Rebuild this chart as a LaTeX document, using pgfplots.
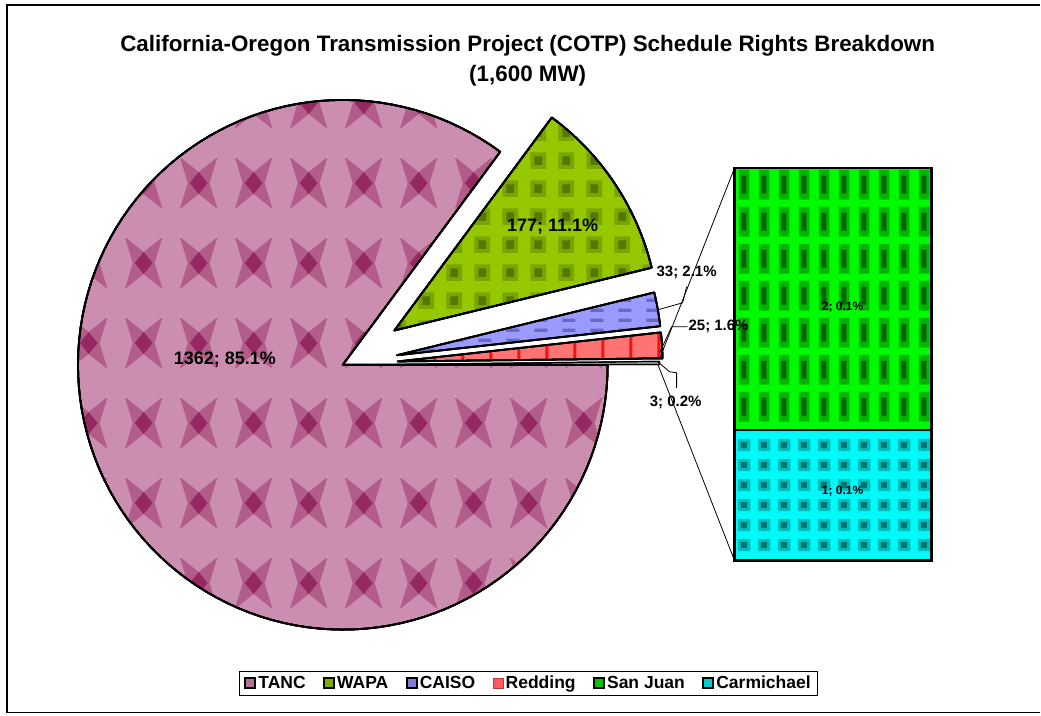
\documentclass[border=0pt]{standalone}
\usepackage{pgfplots}
\pgfplotsset{compat=1.18}
\usetikzlibrary{patterns}
\usepackage{fontspec}
\setmainfont{Liberation Sans}

% fills and pattern colours
\definecolor{tancL}{RGB}{204,142,176}
\definecolor{tancM}{RGB}{178,92,138}
\definecolor{tancD}{RGB}{148,40,96}
\definecolor{wapaL}{RGB}{150,200,0}
\definecolor{wapaM}{RGB}{120,165,0}
\definecolor{wapaD}{RGB}{85,120,0}
\definecolor{caisoL}{RGB}{155,155,255}
\definecolor{caisoD}{RGB}{105,105,195}
\definecolor{reddL}{RGB}{255,115,115}
\definecolor{reddD}{RGB}{240,20,20}
\definecolor{sjL}{RGB}{0,250,0}
\definecolor{sjM}{RGB}{0,180,0}
\definecolor{sjD}{RGB}{0,100,0}
\definecolor{cmL}{RGB}{0,250,250}
\definecolor{cmM}{RGB}{0,190,190}
\definecolor{cmD}{RGB}{0,115,115}
% legend swatches
\definecolor{tanc}{RGB}{180,112,150}
\definecolor{wapa}{RGB}{130,172,0}
\definecolor{caiso}{RGB}{125,125,215}
\definecolor{redding}{RGB}{255,90,90}
\definecolor{sanjuan}{RGB}{0,200,0}
\definecolor{carm}{RGB}{0,205,205}

% tile shapes, repeated round the tile so they wrap
\newcommand\wraprect[6]{%
  \foreach \i in {-1,0,1}{\foreach \j in {-1,0,1}{%
    \pgfpathrectangle{\pgfpoint{#3+(\i)*#1-0.5*#5}{#4+(\j)*#2-0.5*#6}}{\pgfpoint{#5}{#6}}%
    \pgfusepath{fill}}}}
\newcommand\wrapdiamond[6]{%
  \foreach \i in {-1,0,1}{\foreach \j in {-1,0,1}{%
    \pgfpathmoveto{\pgfpoint{#3+(\i)*#1}{#4+(\j)*#2-#6}}%
    \pgfpathlineto{\pgfpoint{#3+(\i)*#1+#5}{#4+(\j)*#2}}%
    \pgfpathlineto{\pgfpoint{#3+(\i)*#1}{#4+(\j)*#2+#6}}%
    \pgfpathlineto{\pgfpoint{#3+(\i)*#1-#5}{#4+(\j)*#2}}%
    \pgfpathclose\pgfusepath{fill}}}}
% four-armed star, arms towards the corners: tileW tileH cx cy w h a
\newcommand\wrapstar[7]{%
  \foreach \i in {-1,0,1}{\foreach \j in {-1,0,1}{%
    \pgfmathsetmacro\X{#3+(\i)*#1}\pgfmathsetmacro\Y{#4+(\j)*#2}%
    \pgfpathmoveto{\pgfpoint{\X+#5}{\Y+#6}}%
    \pgfpathlineto{\pgfpoint{\X}{\Y+#7}}%
    \pgfpathlineto{\pgfpoint{\X-#5}{\Y+#6}}%
    \pgfpathlineto{\pgfpoint{\X-#7}{\Y}}%
    \pgfpathlineto{\pgfpoint{\X-#5}{\Y-#6}}%
    \pgfpathlineto{\pgfpoint{\X}{\Y-#7}}%
    \pgfpathlineto{\pgfpoint{\X+#5}{\Y-#6}}%
    \pgfpathlineto{\pgfpoint{\X+#7}{\Y}}%
    \pgfpathclose\pgfusepath{fill}}}}

\pgfdeclarepatternformonly{tancA}{\pgfqpoint{0pt}{0pt}}{\pgfqpoint{55.5pt}{80pt}}{\pgfqpoint{55.5pt}{80pt}}{\wrapstar{55.5}{80}{34}{53}{19}{26}{11}}
\pgfdeclarepatternformonly{tancB}{\pgfqpoint{0pt}{0pt}}{\pgfqpoint{55.5pt}{80pt}}{\pgfqpoint{55.5pt}{80pt}}{\wrapdiamond{55.5}{80}{34}{53}{9}{11}}
\pgfdeclarepatternformonly{wapaA}{\pgfqpoint{0pt}{0pt}}{\pgfqpoint{27.7pt}{27.7pt}}{\pgfqpoint{27.7pt}{27.7pt}}{\wraprect{27.7}{27.7}{11.4}{27.4}{16}{16}}
\pgfdeclarepatternformonly{wapaB}{\pgfqpoint{0pt}{0pt}}{\pgfqpoint{27.7pt}{27.7pt}}{\pgfqpoint{27.7pt}{27.7pt}}{\wraprect{27.7}{27.7}{11.4}{27.4}{8}{8}}
\pgfdeclarepatternformonly{caisoA}{\pgfqpoint{0pt}{0pt}}{\pgfqpoint{27.7pt}{9.5pt}}{\pgfqpoint{27.7pt}{9.5pt}}{\wraprect{27.7}{9.5}{14}{5}{13}{3.5}}
\pgfdeclarepatternformonly{reddA}{\pgfqpoint{0pt}{0pt}}{\pgfqpoint{27.7pt}{27.7pt}}{\pgfqpoint{27.7pt}{27.7pt}}{\wraprect{27.7}{27.7}{20}{14}{3}{27.7}}
\pgfdeclarepatternformonly{sjA}{\pgfqpoint{0pt}{0pt}}{\pgfqpoint{19.7pt}{37.4pt}}{\pgfqpoint{19.7pt}{37.4pt}}{\wraprect{19.7}{37.4}{16.1}{10.4}{10}{30}}
\pgfdeclarepatternformonly{sjB}{\pgfqpoint{0pt}{0pt}}{\pgfqpoint{19.7pt}{37.4pt}}{\pgfqpoint{19.7pt}{37.4pt}}{\wraprect{19.7}{37.4}{16.1}{10.4}{5}{18}}
\pgfdeclarepatternformonly{cmA}{\pgfqpoint{0pt}{0pt}}{\pgfqpoint{19.7pt}{20pt}}{\pgfqpoint{19.7pt}{20pt}}{\wraprect{19.7}{20}{16.1}{11}{12}{12}}
\pgfdeclarepatternformonly{cmB}{\pgfqpoint{0pt}{0pt}}{\pgfqpoint{19.7pt}{20pt}}{\pgfqpoint{19.7pt}{20pt}}{\wraprect{19.7}{20}{16.1}{11}{6}{6}}

% schedule rights, MW
\def\vTANC{1362}
\def\vWAPA{177}
\def\vCAISO{33}
\def\vRedd{25}
\def\vSJ{2}
\def\vCarm{1}

\pgfmathsetmacro\total{\vTANC+\vWAPA+\vCAISO+\vRedd+\vSJ+\vCarm}
\pgfmathsetmacro\aA{(\vSJ+\vCarm)/\total*360}
\pgfmathsetmacro\aB{\aA+\vRedd/\total*360}
\pgfmathsetmacro\aC{\aB+\vCAISO/\total*360}
\pgfmathsetmacro\aD{\aC+\vWAPA/\total*360}
% bar of pie: split point
\pgfmathsetmacro\ySplit{155+393*\vCarm/(\vSJ+\vCarm)}

% pie centre and radius, 1 unit = 1pt
\def\cx{343}\def\cy{351}\def\R{265}

% \slice{from}{to}{explode}{style}
\newcommand\slice[4]{%
  \pgfmathsetmacro\ox{\cx+#3*cos((#1+#2)/2)}%
  \pgfmathsetmacro\oy{\cy+#3*sin((#1+#2)/2)}%
  \edef\next{\noexpand\addplot[forget plot, draw=black, line width=1.8pt,
      line join=round, domain=#1:#2, samples=120, variable=\noexpand\t, #4]
    ({\ox+\R*cos(\noexpand\t)}, {\oy+\R*sin(\noexpand\t)})
    -- (axis cs:\ox,\oy) -- cycle;}%
  \next}

\begin{document}
\begin{tikzpicture}
\begin{axis}[
  width=1041pt, height=716pt, scale only axis,
  xmin=0, xmax=1041, ymin=0, ymax=716,
  axis lines=none, clip=false,
  legend columns=-1,
  legend style={at={(0.508,0.045)}, anchor=center, draw=black,
    line width=0.8pt, font=\bfseries\fontsize{17.5}{20}\selectfont,
    inner xsep=5pt, inner ysep=3pt,
    /tikz/every even column/.append style={column sep=15.5pt}},
  legend image code/.code={\draw[#1] (0pt,-5pt) rectangle (10pt,5pt);},
]
% keep the full page
\addplot[draw=none, forget plot] coordinates {(0,0) (1041,716)};
% outer frame
\addplot[black, line width=1.2pt, forget plot] coordinates {(1041,3) (7,3) (7,711) (1041,711)};

\slice{\aD}{360}{0}{preaction={fill=tancL}, preaction={pattern=tancA, pattern color=tancM}, preaction={pattern=tancB, pattern color=tancD}}
\slice{\aC}{\aD}{62}{preaction={fill=wapaL}, preaction={pattern=wapaA, pattern color=wapaM}, preaction={pattern=wapaB, pattern color=wapaD}}
\slice{\aB}{\aC}{55}{preaction={fill=caisoL}, preaction={pattern=caisoA, pattern color=caisoD}}
\slice{\aA}{\aB}{55}{preaction={fill=reddL}, preaction={pattern=reddA, pattern color=reddD}}
\slice{0}{\aA}{52}{preaction={fill=gray!60}, line width=1.2pt}

% connectors to the bar
\addplot[black, line width=0.8pt, forget plot] coordinates {(660,357) (735,548)};
\addplot[black, line width=0.8pt, forget plot] coordinates {(658,352) (735,155)};

% bar of pie
\addplot[forget plot, draw=black, line width=2.5pt, preaction={fill=sjL},
  preaction={pattern=sjA, pattern color=sjM}, preaction={pattern=sjB, pattern color=sjD}]
  coordinates {(735,\ySplit) (932,\ySplit) (932,548) (735,548)} -- cycle;
\addplot[forget plot, draw=black, line width=2.5pt, preaction={fill=cmL},
  preaction={pattern=cmA, pattern color=cmM}, preaction={pattern=cmB, pattern color=cmD}]
  coordinates {(735,155) (932,155) (932,\ySplit) (735,\ySplit)} -- cycle;

% legend
\addlegendimage{fill=tanc, draw=black, line width=2pt}
\addlegendentry{TANC}
\addlegendimage{fill=wapa, draw=black, line width=2pt}
\addlegendentry{WAPA}
\addlegendimage{fill=caiso, draw=black, line width=2pt}
\addlegendentry{CAISO}
\addlegendimage{fill=redding, draw=redding!70!black, line width=1pt}
\addlegendentry{Redding}
\addlegendimage{fill=sanjuan, draw=black, line width=2pt}
\addlegendentry{San Juan}
\addlegendimage{fill=carm, draw=black, line width=2pt}
\addlegendentry{Carmichael}

% leader lines
\addplot[black, line width=0.8pt, forget plot] coordinates {(658,406) (683,413) (687,429)};
\addplot[black, line width=0.8pt, forget plot] coordinates {(660,363) (672,389) (688,389)};
\addplot[black, line width=0.8pt, forget plot] coordinates {(658,354) (670,344) (677,343) (677,328)};

% titles
\node[font=\bfseries\fontsize{22.4}{26}\selectfont] at (axis cs:528,670) {California-Oregon Transmission Project (COTP) Schedule Rights Breakdown};
\node[font=\bfseries\fontsize{22.4}{26}\selectfont] at (axis cs:528,640) {(1,600 MW)};

% data labels
\node[font=\bfseries\fontsize{18}{20}\selectfont] at (axis cs:225,356) {1362; 85.1\%};
\node[font=\bfseries\fontsize{18}{20}\selectfont] at (axis cs:553,489) {177; 11.1\%};
\node[font=\bfseries\fontsize{15}{17}\selectfont] at (axis cs:687,443) {33; 2.1\%};
\node[font=\bfseries\fontsize{15}{17}\selectfont] at (axis cs:719,389) {25; 1.6\%};
\node[font=\bfseries\fontsize{15}{17}\selectfont] at (axis cs:676,313) {3; 0.2\%};
\node[font=\bfseries\fontsize{12}{14}\selectfont] at (axis cs:843,409) {2; 0.1\%};
\node[font=\bfseries\fontsize{12}{14}\selectfont] at (axis cs:843,224) {1; 0.1\%};
\end{axis}
\end{tikzpicture}
\end{document}
